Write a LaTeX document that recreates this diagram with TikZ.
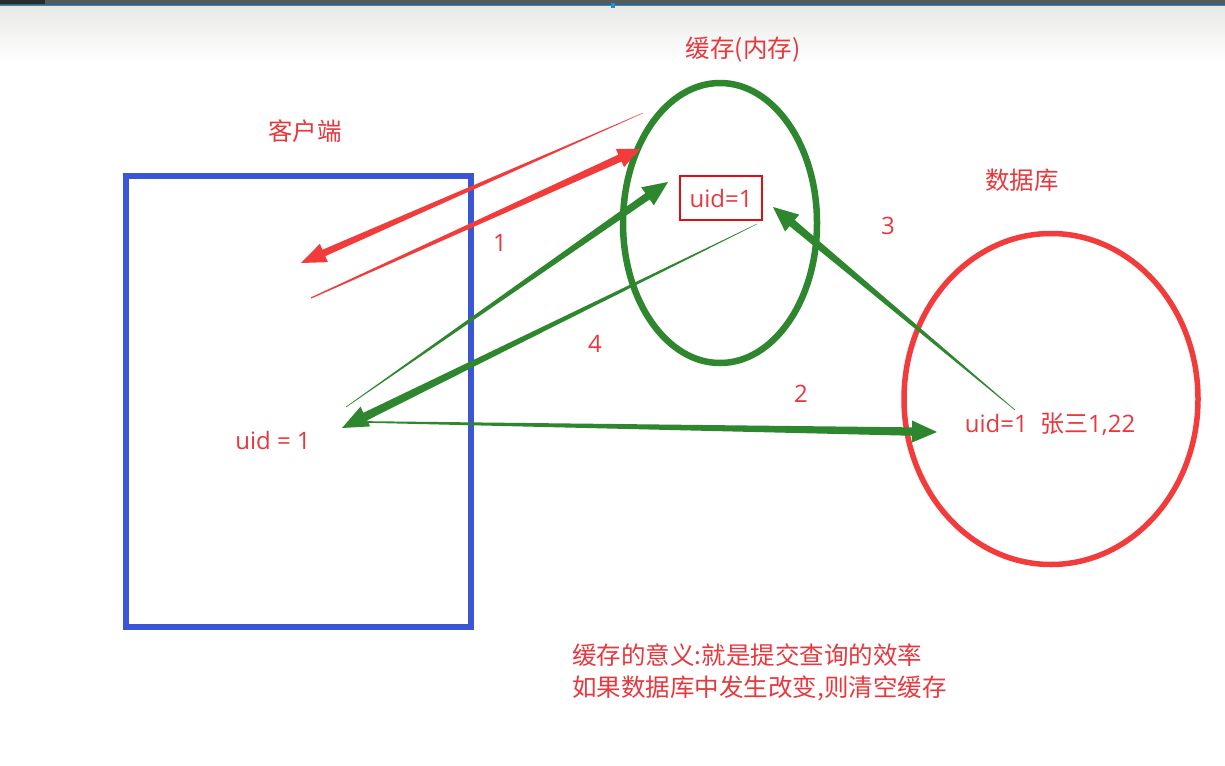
\documentclass[tikz,border=0pt]{standalone}
\usepackage{fontspec}
\setmainfont{Noto Sans CJK SC}
\newfontfamily\latinfont{Open Sans}
\usetikzlibrary{calc,shapes.geometric}
\definecolor{cred}{HTML}{F23C3C}
\definecolor{tred}{HTML}{E8383D}
\definecolor{bred}{HTML}{E01010}
\definecolor{cgreen}{HTML}{2E862E}
\definecolor{cblue}{HTML}{3A56D4}
\definecolor{bardark}{HTML}{555A5E}
\definecolor{barblack}{HTML}{2B2B2B}
\definecolor{barblue}{HTML}{1E8FD0}
\definecolor{barlight}{HTML}{E8E9E7}
% #1 colour, #2 from, #3 to, #4 start half width, #5 shaft half width at head, #6 head length, #7 head half width
\newcommand\taperarrow[7]{%
  \path ($(#3)!#6!(#2)$) coordinate (tahb)
        ($(#2)!#4!90:(#3)$) coordinate (tasa)
        ($(#2)!#4!-90:(#3)$) coordinate (tasb);
  \fill[#1] (tasa) -- ($(tahb)!#5!90:(#3)$) -- ($(tahb)!#7!90:(#3)$) -- (#3)
     -- ($(tahb)!#7!-90:(#3)$) -- ($(tahb)!#5!-90:(#3)$) -- (tasb) -- cycle;
}
\begin{document}
\begin{tikzpicture}[x=1pt,y=-1pt,
  lbl/.style={text=tred, font=\fontsize{24.5}{30}\selectfont, inner sep=0pt},
  latlbl/.style={text=tred, font=\latinfont\fontsize{24}{30}\selectfont, inner sep=0pt},
  numlbl/.style={text=tred, font=\latinfont\fontsize{24}{28}\selectfont, inner sep=0pt}]
\useasboundingbox (0,0) rectangle (1225,765);
\fill[white] (0,0) rectangle (1225,765);
% window chrome at top
\shade[top color=barlight, bottom color=white] (0,6) rectangle (1225,62);
\fill[bardark] (0,0) rectangle (1225,5);
\fill[barblack] (0,0) rectangle (45,4);
\fill[barblue] (0,5) rectangle (1225,6.5);
\fill[barblue] (611,3) rectangle (615,8);

% shapes
\node[draw=cblue, line width=6pt, minimum width=345pt, minimum height=451pt, inner sep=0pt] (client) at (298.5,401.5) {};
\node[draw=cgreen, line width=6.5pt, ellipse, minimum width=194pt, minimum height=280pt, inner sep=0pt] (cache) at (720,223) {};
\node[draw=cred, line width=5.5pt, ellipse, minimum width=294pt, minimum height=331pt, inner sep=0pt] (db) at (1051,399) {};

% labels
\node[lbl] (clientlbl) at (305,131) {客户端};
\node[lbl] (cachelbl) at (743,50) {缓存(内存)};
\node[lbl] (dblbl) at (1022,180) {数据库};
\node[latlbl, draw=bred, line width=1.3pt, minimum width=82pt, minimum height=44pt] (cacheuid) at (721,198) {uid=1};
\node[latlbl] (clientuid) at (273,440) {uid = 1};
\node[latlbl] (dbrow) at (1050,424) {uid=1\ \ {\rmfamily 张三}1,22};
\node[numlbl] (n1) at (500,243) {1};
\node[numlbl] (n3) at (888,226) {3};
\node[numlbl] (n4) at (595,344) {4};
\node[numlbl] (n2) at (801,394) {2};
\node[lbl, anchor=west] (note1) at (572,655) {缓存的意义:就是提交查询的效率};
\node[lbl, anchor=west] (note2) at (572,688) {如果数据库中发生改变,则清空缓存};

% arrow end points
\coordinate (ra1s) at (643,113);
\coordinate (ra1e) at (301,263);
\coordinate (ra2s) at (311,298);
\coordinate (ra2e) at (640,149);
\coordinate (ga4s) at (346,407);
\coordinate (ga4e) at (668,182);
\coordinate (gcs) at (757,224);
\coordinate (gce) at (342,428);
\coordinate (g2s) at (368,422);
\coordinate (g2e) at (937,432);
\coordinate (g3s) at (1015,410);
\coordinate (g3e) at (773,207);

% arrows
\taperarrow{cred}{ra1s}{ra1e}{0.2pt}{3.5pt}{25pt}{10pt}
\taperarrow{cred}{ra2s}{ra2e}{0.6pt}{3.8pt}{22pt}{10pt}
\taperarrow{cgreen}{ga4s}{ga4e}{0.3pt}{3.8pt}{25pt}{11pt}
\taperarrow{cgreen}{gcs}{gce}{0.2pt}{4.2pt}{26pt}{11pt}
\taperarrow{cgreen}{g2s}{g2e}{0.8pt}{4.2pt}{25pt}{11pt}
\taperarrow{cgreen}{g3s}{g3e}{0.3pt}{4pt}{25pt}{11pt}
\end{tikzpicture}
\end{document}
